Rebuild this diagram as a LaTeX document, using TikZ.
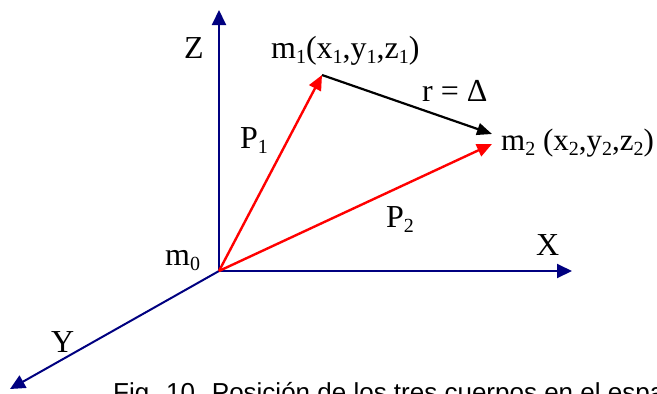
\documentclass[tikz,border=0pt]{standalone}
\usepackage{fontspec}
\setmainfont{Liberation Serif}
\newfontfamily\capfont{Liberation Sans}
\usetikzlibrary{arrows.meta}
\definecolor{axisblue}{RGB}{0,0,128}
\newcommand\sbx[1]{\raisebox{-0.18em}{\fontsize{20}{20}\selectfont #1}}
\tikzset{
  axis/.style={draw=axisblue, line width=2pt, -{Triangle[length=15pt,width=14pt]}},
  redvec/.style={draw=red, line width=2.4pt, -{Triangle[length=15pt,width=13pt]}},
  blackvec/.style={draw=black, line width=2.2pt, -{Triangle[length=15pt,width=12pt]}},
  lbl/.style={anchor=base west, inner sep=0pt, font=\fontsize{32}{32}\selectfont},
}
\begin{document}
\begin{tikzpicture}[x=1pt,y=-1pt]
\useasboundingbox (0,0) rectangle (657,394);
\clip (0,0) rectangle (657,394);
\fill[white] (0,0) rectangle (657,394);
\coordinate (O) at (219,271);
\coordinate (Zt) at (219,10);
\coordinate (Xt) at (572,271);
\coordinate (Yt) at (10,389);
\coordinate (M1) at (322,75);
\coordinate (M2a) at (492,134);
\coordinate (M2b) at (492,144);
\draw[axis] (O) -- (Zt);
\draw[axis] (O) -- (Xt);
\draw[axis] (O) -- (Yt);
\draw[redvec] (O) -- (M1);
\draw[redvec] (O) -- (M2b);
\draw[blackvec] (M1) -- (M2a);
\node[lbl] (zl) at (184,58) {Z};
\node[lbl] (xl) at (536,255) {X};
\node[lbl] (yl) at (51,352) {Y};
\node[lbl] (m0) at (165,265) {m\sbx{0}};
\node[lbl] (p1) at (240,148) {P\sbx{1}};
\node[lbl] (p2) at (386,227) {P\sbx{2}};
\node[lbl] (m1l) at (271,58) {m\sbx{1}(x\sbx{1},y\sbx{1},z\sbx{1})};
\node[lbl, font=\fontsize{31}{31}\selectfont] (m2l) at (501,150) {m\sbx{2} (x\sbx{2},y\sbx{2},z\sbx{2})};
\node[lbl] (rl) at (422,101) {r = Δ};
\node[anchor=base west, inner sep=0pt, font=\capfont\fontsize{26}{26}\selectfont] (cap) at (113,401) {Fig. 10. Posición de los tres cuerpos en el espacio};
\end{tikzpicture}
\end{document}
